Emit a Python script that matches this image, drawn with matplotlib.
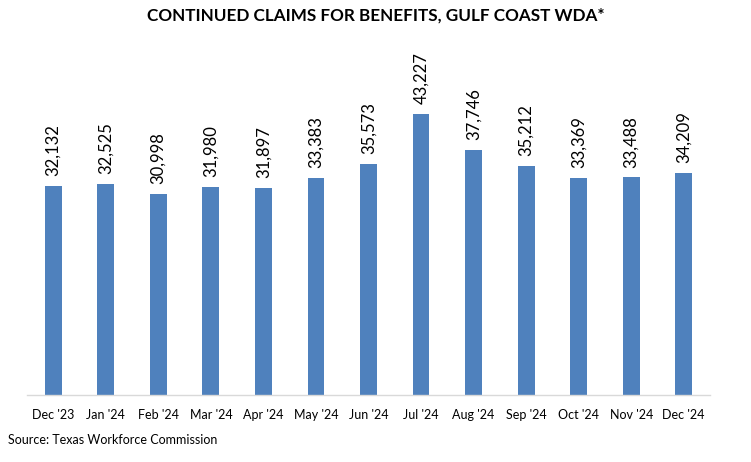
import matplotlib
matplotlib.use("Agg")
import matplotlib.pyplot as plt

categories = ["Dec '23", "Jan '24", "Feb '24", "Mar '24", "Apr '24", "May '24", "Jun '24",
              "Jul '24", "Aug '24", "Sep '24", "Oct '24", "Nov '24", "Dec '24"]
claims = [32132, 32525, 30998, 31980, 31897, 33383, 35573, 43227, 37746, 35212, 33369, 33488, 34209]

plt.rcParams['font.family'] = ['Lato', 'DejaVu Sans']

fig = plt.figure(figsize=(7.51, 4.62), dpi=100)
ax = fig.add_axes([27/751, 0.145, (710-27)/751, 0.8485-0.145])

x = list(range(len(categories)))
bars = ax.bar(x, claims, width=0.32, color="#4F81BD", zorder=2)
ax.set_xlim(-0.5, len(categories) - 0.5)
ax.set_ylim(0, 50000)

for xi, v in zip(x, claims):
    ax.annotate(f"{v:,}", (xi, v), xytext=(0, 7), textcoords="offset points",
                rotation=90, ha="center", va="bottom", fontsize=12, color="#000000")

ax.set_xticks(x)
ax.set_xticklabels(categories, fontsize=9, color="#000000")
ax.tick_params(axis="x", length=0, pad=10)
ax.set_yticks([])
for s in ["top", "right", "left"]:
    ax.spines[s].set_visible(False)
ax.spines["bottom"].set_color("#D9D9D9")
ax.spines["bottom"].set_linewidth(1.0)

fig.text(0.5, 1 - 16/462, "CONTINUED CLAIMS FOR BENEFITS, GULF COAST WDA*", ha="center", va="center",
         fontsize=12.3, fontweight="bold", color="#000000")
fig.text(8/751, 1 - 440/462, "Source: Texas Workforce Commission", ha="left", va="center",
         fontsize=9, color="#000000")

fig.savefig("out.png", dpi=100)
